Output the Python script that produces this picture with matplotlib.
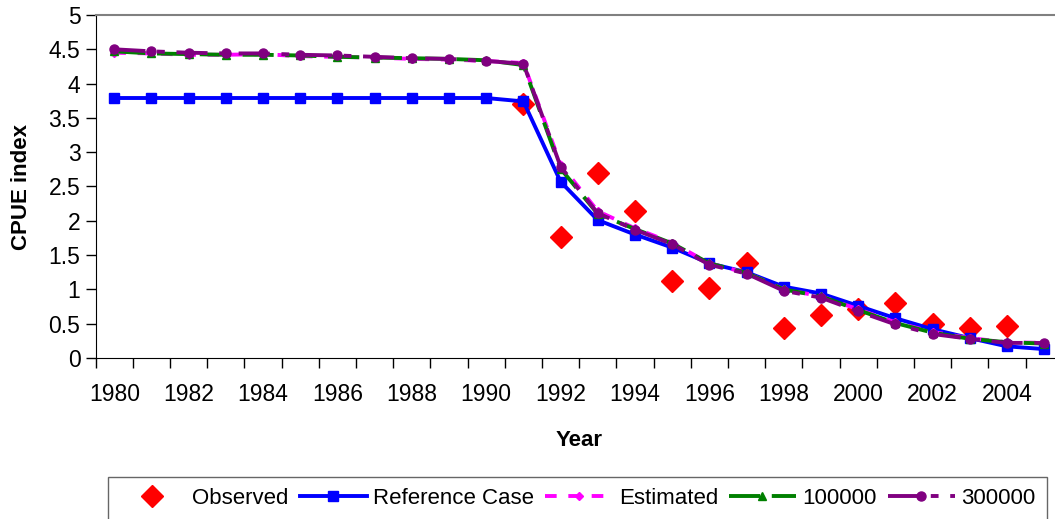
import matplotlib.pyplot as plt
import numpy as np

plt.rcParams['font.family'] = ['Liberation Sans', 'DejaVu Sans']

years = list(range(1980, 2006))
obs_years = list(range(1991, 2005))

observed = [3.70, 1.77, 2.70, 2.14, 1.12, 1.02, 1.38, 0.44, 0.62, 0.72, 0.80, 0.50, 0.44, 0.47]
reference = [3.79, 3.79, 3.79, 3.79, 3.79, 3.79, 3.79, 3.79, 3.79, 3.79, 3.79, 3.74,
             2.57, 2.01, 1.80, 1.61, 1.38, 1.25, 1.04, 0.94, 0.76, 0.58, 0.42, 0.29, 0.17, 0.13]
estimated = [4.45, 4.44, 4.42, 4.42, 4.43, 4.40, 4.39, 4.38, 4.36, 4.35, 4.33, 4.30,
             2.82, 2.14, 1.89, 1.68, 1.38, 1.24, 1.00, 0.90, 0.71, 0.52, 0.38, 0.29, 0.23, 0.22]
run_100k = [4.47, 4.44, 4.43, 4.42, 4.42, 4.41, 4.39, 4.38, 4.37, 4.36, 4.34, 4.27,
            2.76, 2.10, 1.88, 1.67, 1.38, 1.24, 1.00, 0.90, 0.70, 0.51, 0.37, 0.28, 0.23, 0.21]
run_300k = [4.50, 4.47, 4.45, 4.44, 4.44, 4.42, 4.41, 4.39, 4.37, 4.36, 4.33, 4.29,
            2.79, 2.11, 1.87, 1.66, 1.36, 1.23, 0.98, 0.88, 0.68, 0.49, 0.35, 0.28, 0.22, 0.22]

W, H = 1055, 519
fig = plt.figure(figsize=(W / 100, H / 100), dpi=100)
ax = fig.add_axes([95.7 / W, 1 - 358 / H, 967 / W, 343 / H])

ax.plot(obs_years, observed, linestyle='none', marker='D', color='#ff0000',
        markersize=11, label='Observed')
ax.plot(years, reference, color='#0000ff', lw=2.8, marker='s', markersize=7,
        label='Reference Case')
ax.plot(years, estimated, color='#ff00ff', lw=2.8, dashes=(3, 3), marker='D',
        markersize=4.5, label='Estimated')
ax.plot(years, run_100k, color='#008000', lw=2.8, dashes=(8, 3), marker='^',
        markersize=5.5, label='100000')
ax.plot(years, run_300k, color='#800080', lw=2.8, dashes=(8, 3, 2, 3), marker='o',
        markersize=6.5, label='300000')

ax.set_xlim(1979.5, 2005.5)
ax.set_ylim(0, 5)
ax.set_yticks(np.arange(0, 5.01, 0.5))
ax.set_yticklabels(['0', '0.5', '1', '1.5', '2', '2.5', '3', '3.5', '4', '4.5', '5'])
ax.set_xticks(range(1980, 2005, 2))
ax.set_xticks(np.arange(1979.5, 2005.6, 1), minor=True)
ax.tick_params(axis='x', which='major', length=0, pad=18, labelsize=16.5)
ax.tick_params(axis='x', which='minor', length=7, width=1)
ax.tick_params(axis='y', length=7, width=1, pad=4, labelsize=16.5)

ax.spines['top'].set_color('#808080')
ax.spines['top'].set_linewidth(1.5)
ax.spines['right'].set_visible(False)

ax.set_xlabel('Year', fontsize=16, fontweight='bold', labelpad=17)
ax.set_ylabel('CPUE index', fontsize=16, fontweight='bold', labelpad=12)

leg = fig.legend(loc='upper left', bbox_to_anchor=(108 / W, 1 - 477 / H), ncol=5,
                 fontsize=16, handlelength=3.0, handletextpad=0.3, columnspacing=0.5,
                 borderaxespad=0, borderpad=0.5, fancybox=False, frameon=True)
leg.get_frame().set_edgecolor('#404040')
leg.get_frame().set_linewidth(1)

fig.savefig('out.png', dpi=100)
